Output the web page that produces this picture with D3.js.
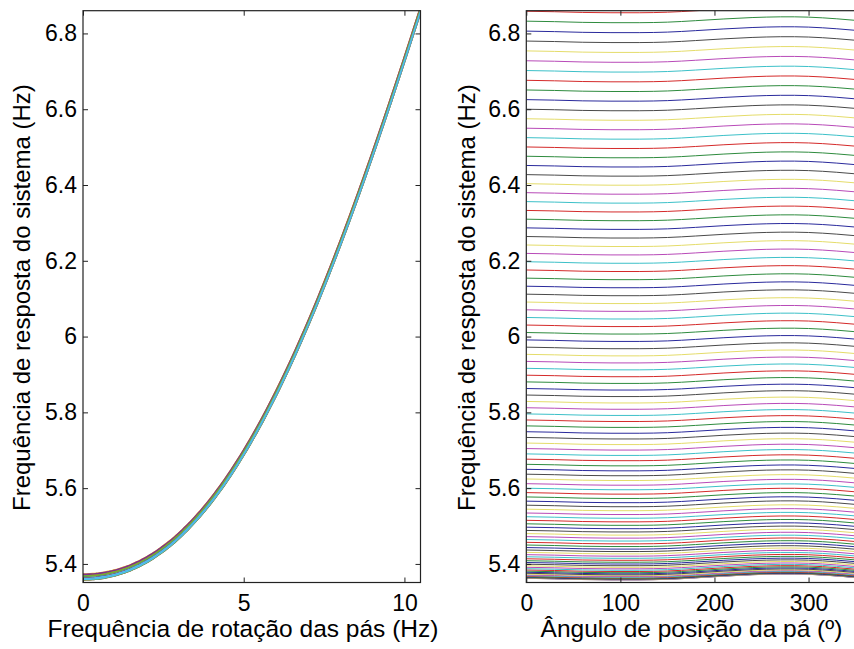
<!DOCTYPE html>
<html lang="pt">
<head>
<meta charset="UTF-8">
<title>Frequência de resposta do sistema</title>
<script src="https://d3js.org/d3.v7.min.js"></script>
<style>
    body { margin: 0; background: #fff; }
    text { font-family: "Liberation Sans", Arial, sans-serif; fill: #000; }
</style>
</head>
<body>
<svg class="chart" width="854" height="649"></svg>
<script>
    // rotation frequency of the blades (Hz) - one line per value on the right panel
    const rotFreq = [
        0.0, 0.1, 0.2, 0.3, 0.4, 0.5, 0.6, 0.7, 0.8, 0.9,
        1.0, 1.1, 1.2, 1.3, 1.4, 1.5, 1.6, 1.7, 1.8, 1.9,
        2.0, 2.1, 2.2, 2.3, 2.4, 2.5, 2.6, 2.7, 2.8, 2.9,
        3.0, 3.1, 3.2, 3.3, 3.4, 3.5, 3.6, 3.7, 3.8, 3.9,
        4.0, 4.1, 4.2, 4.3, 4.4, 4.5, 4.6, 4.7, 4.8, 4.9,
        5.0, 5.1, 5.2, 5.3, 5.4, 5.5, 5.6, 5.7, 5.8, 5.9,
        6.0, 6.1, 6.2, 6.3, 6.4, 6.5, 6.6, 6.7, 6.8, 6.9,
        7.0, 7.1, 7.2, 7.3, 7.4, 7.5, 7.6, 7.7, 7.8, 7.9,
        8.0, 8.1, 8.2, 8.3, 8.4, 8.5, 8.6, 8.7, 8.8, 8.9,
        9.0, 9.1, 9.2, 9.3, 9.4, 9.5, 9.6, 9.7, 9.8, 9.9,
        10.0, 10.1, 10.2, 10.3, 10.4, 10.5
    ];

    // system response frequency (Hz) at blade angle 0
    const baseFreq = [
        5.3620, 5.3621, 5.3624, 5.3629, 5.3637, 5.3646, 5.3658, 5.3672, 5.3689, 5.3708,
        5.3729, 5.3753, 5.3780, 5.3809, 5.3840, 5.3874, 5.3911, 5.3950, 5.3993, 5.4038,
        5.4085, 5.4136, 5.4189, 5.4245, 5.4305, 5.4367, 5.4432, 5.4499, 5.4570, 5.4644,
        5.4721, 5.4801, 5.4884, 5.4970, 5.5059, 5.5151, 5.5246, 5.5344, 5.5445, 5.5550,
        5.5657, 5.5768, 5.5882, 5.5998, 5.6118, 5.6242, 5.6368, 5.6497, 5.6629, 5.6765,
        5.6904, 5.7045, 5.7190, 5.7338, 5.7489, 5.7643, 5.7799, 5.7959, 5.8122, 5.8288,
        5.8457, 5.8629, 5.8804, 5.8981, 5.9162, 5.9345, 5.9531, 5.9720, 5.9912, 6.0107,
        6.0304, 6.0504, 6.0706, 6.0911, 6.1119, 6.1329, 6.1542, 6.1757, 6.1975, 6.2195,
        6.2417, 6.2641, 6.2869, 6.3098, 6.3329, 6.3562, 6.3798, 6.4035, 6.4274, 6.4516,
        6.4759, 6.5004, 6.5250, 6.5499, 6.5749, 6.6000, 6.6253, 6.6508, 6.6763, 6.7021,
        6.7279, 6.7539, 6.7799, 6.8061, 6.8324, 6.8586
    ];

    // blade position angle (deg) and the change of response frequency with it (Hz)
    const angleDeg = [0, 30, 60, 90, 120, 150, 180, 210, 240, 270, 300, 330, 360];
    const angleDev = [0, -0.0013, -0.0032, -0.0040, -0.0040, -0.0026, 0.0013, 0.0058, 0.0095, 0.0114, 0.0106, 0.0062, 0];

    const yTicks = [5.4, 5.6, 5.8, 6, 6.2, 6.4, 6.6, 6.8];
    const rotTicks = [0, 5, 10];
    const angTicks = [0, 100, 200, 300];

    // right panel: classic r g b k y m c, listed from the top line down
    const classicColors = ['#d42a2a', '#2e8b3e', '#2a2a9c', '#4a4a4a', '#e4dc6a', '#b84ab8', '#3cc0c8'];
    // left panel: newer default colour order
    const lineColors = ['#0072BD', '#D95319', '#EDB120', '#7E2F8E', '#77AC30', '#4DBEEE', '#A2142F'];

    const svg = d3.select('.chart');
    svg.append('rect').attr('width', 854).attr('height', 649).attr('fill', '#fff');

    const plotTop = 10.7, plotBottom = 582.5;
    const yScale = d3.scaleLinear().domain([5.351, 6.86]).range([plotBottom, plotTop]);
    const xRot = d3.scaleLinear().domain([0, 10.5]).range([83, 420.5]);
    const xAng = d3.scaleLinear().domain([0, 360]).range([526.3, 865]);

    const fmt = d => String(+d.toFixed(1));

    function drawAxes(xScale, xTicks, xLabel, xLabelPos, yLabelPos) {
        const [x0, x1] = xScale.range();
        const g = svg.append('g');

        g.append('g')
            .attr('transform', `translate(0,${plotBottom})`)
            .call(d3.axisBottom(xScale).tickValues(xTicks).tickFormat(fmt)
                .tickSizeInner(-5).tickSizeOuter(0).tickPadding(12));
        g.append('g')
            .attr('transform', `translate(0,${plotTop})`)
            .call(d3.axisTop(xScale).tickValues(xTicks).tickFormat('')
                .tickSizeInner(-5).tickSizeOuter(0));
        g.append('g')
            .attr('transform', `translate(${x0},0)`)
            .call(d3.axisLeft(yScale).tickValues(yTicks).tickFormat(fmt)
                .tickSizeInner(-5).tickSizeOuter(0).tickPadding(6));
        g.append('g')
            .attr('transform', `translate(${x1},0)`)
            .call(d3.axisRight(yScale).tickValues(yTicks).tickFormat('')
                .tickSizeInner(-5).tickSizeOuter(0));

        g.selectAll('.domain').remove();
        g.selectAll('.tick line').attr('stroke', '#222').attr('stroke-width', 1);
        g.selectAll('.tick text').style('font-size', '23px').attr('fill', '#000');

        g.append('rect')
            .attr('x', x0).attr('y', plotTop)
            .attr('width', x1 - x0).attr('height', plotBottom - plotTop)
            .attr('fill', 'none').attr('stroke', '#222').attr('stroke-width', 1.2);

        g.append('text')
            .attr('x', xLabelPos).attr('y', 637)
            .attr('text-anchor', 'middle')
            .style('font-size', '24.5px')
            .text(xLabel);

        g.append('text')
            .attr('transform', `translate(${yLabelPos},${(plotTop + plotBottom) / 2 + 1}) rotate(-90)`)
            .attr('text-anchor', 'middle')
            .style('font-size', '24px')
            .text('Frequência de resposta do sistema (Hz)');
    }

    const defs = svg.append('defs');
    defs.append('clipPath').attr('id', 'clipLeft').append('rect')
        .attr('x', 83).attr('y', plotTop).attr('width', 420.5 - 83).attr('height', plotBottom - plotTop);
    defs.append('clipPath').attr('id', 'clipRight').append('rect')
        .attr('x', 526.3).attr('y', plotTop).attr('width', 865 - 526.3).attr('height', plotBottom - plotTop);

    // left panel: response vs rotation frequency, one line per blade angle
    const lineRot = d3.line()
        .x(d => xRot(d[0]))
        .y(d => yScale(d[1]))
        .curve(d3.curveMonotoneX);

    const leftGroup = svg.append('g').attr('clip-path', 'url(#clipLeft)');
    angleDeg.forEach((a, j) => {
        const pts = rotFreq.map((f, i) => [f, baseFreq[i] + angleDev[j]]);
        leftGroup.append('path')
            .datum(pts)
            .attr('d', lineRot)
            .attr('fill', 'none')
            .attr('stroke', lineColors[j % lineColors.length])
            .attr('stroke-width', 1.6);
    });

    // right panel: response vs blade angle, one line per rotation frequency
    const lineAng = d3.line()
        .x(d => xAng(d[0]))
        .y(d => yScale(d[1]))
        .curve(d3.curveNatural);

    const rightGroup = svg.append('g').attr('clip-path', 'url(#clipRight)');
    const n = rotFreq.length;
    rotFreq.forEach((f, i) => {
        const pts = angleDeg.map((a, j) => [a, baseFreq[i] + angleDev[j]]);
        rightGroup.append('path')
            .datum(pts)
            .attr('d', lineAng)
            .attr('fill', 'none')
            .attr('stroke', classicColors[(n - 1 - i) % classicColors.length])
            .attr('stroke-width', 1);
    });

    drawAxes(xRot, rotTicks, 'Frequência de rotação das pás (Hz)', 243, 30);
    drawAxes(xAng, angTicks, 'Ângulo de posição da pá (º)', 691.5, 475);
</script>
</body>
</html>
